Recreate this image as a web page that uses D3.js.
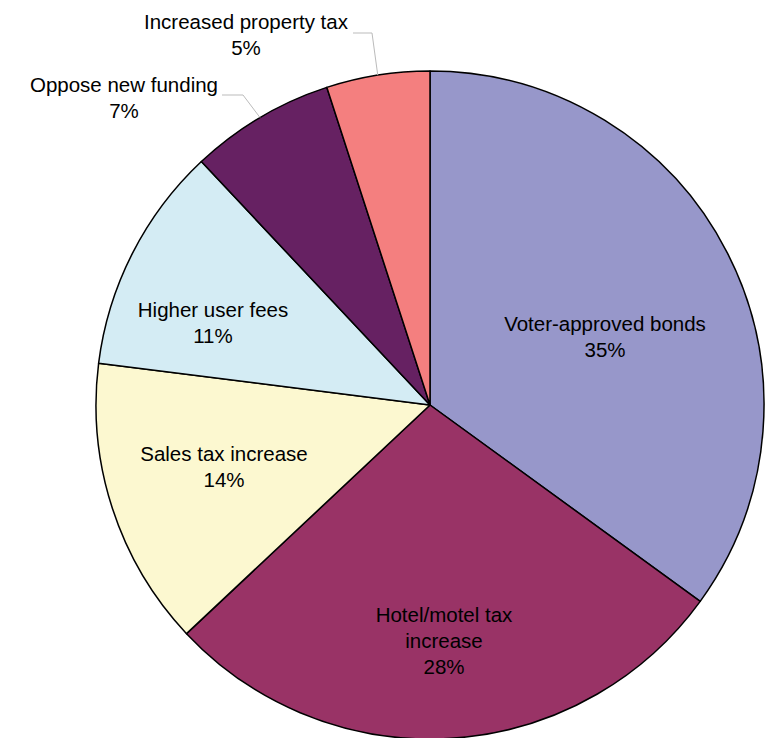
<!DOCTYPE html>
<html><head><meta charset="utf-8">
<script src="https://cdn.jsdelivr.net/npm/d3@7"></script>
<style>body{margin:0;background:#fff;}svg{display:block;font-family:"Liberation Sans",Arial,sans-serif;}</style>
</head><body>
<svg id="c" width="778" height="738"></svg>
<script>
const categories = ["Voter-approved bonds","Hotel/motel tax increase","Sales tax increase","Higher user fees","Oppose new funding","Increased property tax"];
const values = [35,28,14,11,7,5];
const colors = ["#9797CA","#993366","#FCF8D0","#D4ECF4","#662162","#F47F7F"];
const labelLines = [["Voter-approved bonds","35%"],["Hotel/motel tax","increase","28%"],["Sales tax increase","14%"],["Higher user fees","11%"],["Oppose new funding","7%"],["Increased property tax","5%"]];

const svg = d3.select("#c");
const cx = 430, cy = 405, r = 334;
const g = svg.append("g").attr("transform",`translate(${cx},${cy})`);
const pie = d3.pie().sort(null).value(d=>d);
const arcs = pie(values);
const arc = d3.arc().innerRadius(0).outerRadius(r);
g.selectAll("path").data(arcs).enter().append("path")
  .attr("d",arc).attr("fill",(d,i)=>colors[i]).attr("stroke","#000").attr("stroke-width",1.5).attr("stroke-linejoin","round");

const labelPos = [[605,324],[444,615],[224,454],[213,310],[124,85],[246,22]];
labelPos.forEach((p,i)=>{
  const t = svg.append("text").attr("text-anchor","middle").attr("font-size",20.5).attr("fill","#000");
  labelLines[i].forEach((s,j)=>{
    t.append("tspan").attr("x",p[0]).attr("y",p[1]+j*26+7).text(s);
  });
});
function edge(i, frac){
  const a = arcs[i].startAngle + (arcs[i].endAngle-arcs[i].startAngle)*frac;
  return [cx + r*Math.sin(a), cy - r*Math.cos(a)];
}
const e5 = edge(5,0.5), e4 = edge(4,0.5);
svg.append("path").attr("d",`M353,33H372L${e5[0]},${e5[1]}`).attr("fill","none").attr("stroke","#bbb").attr("stroke-width",1);
svg.append("path").attr("d",`M222,95H243L${e4[0]},${e4[1]}`).attr("fill","none").attr("stroke","#bbb").attr("stroke-width",1);
</script>
</body></html>
